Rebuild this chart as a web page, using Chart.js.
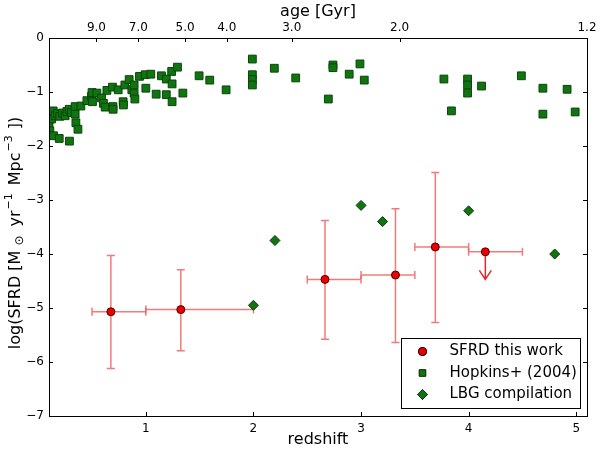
<!DOCTYPE html>
<html>
<head>
<meta charset="utf-8">
<script src="https://cdn.jsdelivr.net/npm/chart.js@4/dist/chart.umd.min.js"></script>
<style>
  html, body { margin: 0; padding: 0; background: #fff; }
  #sfrd { display: block; }
</style>
</head>
<body>
<canvas id="sfrd" width="600" height="449" style="width:600px;height:449px"></canvas>
<script>
// SFRD this work
const sfrdZ     = [0.675, 1.325, 2.665, 3.32, 3.69, 4.155];
const sfrdLog   = [-5.07, -5.03, -4.47, -4.39, -3.87, -3.96];
const sfrdZLo   = [0.5, 1.0, 2.5, 3.0, 3.5, 4.0];
const sfrdZHi   = [1.0, 2.0, 3.0, 3.5, 4.0, 4.5];
const sfrdLogLo = [-6.12, -5.79, -5.58, -5.64, -5.27, null];
const sfrdLogHi = [-4.03, -4.29, -3.38, -3.16, -2.49, null];
const sfrdLimitTo = [null, null, null, null, null, -4.47];  // upper limit arrow

// Hopkins+ (2004)
const hopZ = [0.10, 0.10, 0.108, 0.118, 0.124, 0.139, 0.142, 0.158, 0.179, 0.195,
  0.20, 0.226, 0.25, 0.266, 0.288, 0.29, 0.309, 0.343, 0.343, 0.35,
  0.369, 0.396, 0.452, 0.495, 0.50, 0.504, 0.545, 0.588, 0.606, 0.622,
  0.638, 0.69, 0.694, 0.696, 0.743, 0.789, 0.792, 0.805, 0.845, 0.87,
  0.891, 0.891, 0.898, 0.941, 0.994, 1.0, 1.046, 1.096, 1.145, 1.19,
  1.19, 1.24, 1.244, 1.244, 1.294, 1.344, 1.495, 1.594, 1.746, 1.99,
  1.99, 1.99, 1.99, 2.194, 2.393, 2.696, 2.739, 2.739, 2.89, 2.99,
  3.03, 3.77, 3.84, 3.99, 3.99, 3.99, 4.12, 4.49, 4.69, 4.69,
  4.915, 4.99];
const hopLog = [-1.52, -1.58, -1.72, -1.41, -1.50, -1.35, -1.81, -1.44, -1.40, -1.86,
  -1.45, -1.39, -1.44, -1.36, -1.32, -1.91, -1.38, -1.27, -1.41, -1.57,
  -1.69, -1.26, -1.16, -1.08, -1.01, -1.18, -1.02, -1.11, -1.21, -1.28,
  -0.97, -0.91, -1.27, -1.32, -0.96, -1.18, -1.24, -0.87, -0.77, -0.96,
  -0.87, -1.02, -1.13, -0.71, -0.68, -0.93, -0.67, -1.04, -0.70, -0.76,
  -1.05, -0.62, -0.85, -1.18, -0.54, -1.02, -0.70, -0.78, -0.96, -0.39,
  -0.68, -0.77, -0.87, -0.56, -0.74, -1.13, -0.50, -0.55, -0.67, -0.48,
  -0.78, -0.76, -1.35, -0.76, -0.87, -1.02, -0.89, -0.70, -0.93, -1.41,
  -0.95, -1.37];

// LBG compilation
const lbgZ   = [2.0, 2.2, 3.0, 3.2, 4.0, 4.8];
const lbgLog = [-4.95, -3.75, -3.1, -3.4, -3.2, -4.0];

// axes
const zTicks = [1, 2, 3, 4, 5];
const logTicks = [-7, -6, -5, -4, -3, -2, -1, 0];
const ageTickZ = [0.541, 0.931, 1.365, 1.752, 2.356, 3.358, 5.1];
const ageLabels = ["9.0", "7.0", "5.0", "4.0", "3.0", "2.0", "1.2"];

const FONT = "'DejaVu Sans', sans-serif";
const pts = (xs, ys) => xs.map((x, i) => ({ x: x, y: ys[i] }));

const errorBars = {
  id: "errorBars",
  beforeDatasetsDraw(chart) {
    const ctx = chart.ctx, xs = chart.scales.x, ys = chart.scales.y;
    ctx.save();
    ctx.lineWidth = 1.5;
    ctx.strokeStyle = "rgba(238,100,100,0.85)";
    const cap = 4;
    sfrdZ.forEach((z, i) => {
      const px = xs.getPixelForValue(z), py = ys.getPixelForValue(sfrdLog[i]);
      const x0 = xs.getPixelForValue(sfrdZLo[i]), x1 = xs.getPixelForValue(sfrdZHi[i]);
      ctx.beginPath();
      ctx.moveTo(x0, py); ctx.lineTo(x1, py);
      ctx.moveTo(x0, py - cap); ctx.lineTo(x0, py + cap);
      ctx.moveTo(x1, py - cap); ctx.lineTo(x1, py + cap);
      if (sfrdLogLo[i] !== null) {
        const y0 = ys.getPixelForValue(sfrdLogLo[i]), y1 = ys.getPixelForValue(sfrdLogHi[i]);
        ctx.moveTo(px, y0); ctx.lineTo(px, y1);
        ctx.moveTo(px - cap, y0); ctx.lineTo(px + cap, y0);
        ctx.moveTo(px - cap, y1); ctx.lineTo(px + cap, y1);
      }
      ctx.stroke();
      if (sfrdLimitTo[i] !== null) {
        const yt = ys.getPixelForValue(sfrdLimitTo[i]);
        ctx.save();
        ctx.strokeStyle = "#e02a2a";
        ctx.beginPath();
        ctx.moveTo(px, py); ctx.lineTo(px, yt);
        ctx.moveTo(px - 6, yt - 9); ctx.lineTo(px, yt); ctx.lineTo(px + 6, yt - 9);
        ctx.stroke();
        ctx.restore();
      }
    });
    ctx.restore();
  }
};

const frameAndExtras = {
  id: "frameAndExtras",
  afterDraw(chart) {
    const ctx = chart.ctx, a = chart.chartArea;
    const xs = chart.scales.x, ys = chart.scales.y, xa = chart.scales.xAge;
    ctx.save();
    ctx.strokeStyle = "#000";
    ctx.lineWidth = 1;
    // inward ticks
    ctx.beginPath();
    zTicks.forEach(v => {
      const p = Math.round(xs.getPixelForValue(v)) + 0.5;
      ctx.moveTo(p, a.bottom); ctx.lineTo(p, a.bottom - 4);
    });
    ageTickZ.forEach(v => {
      const p = Math.round(xa.getPixelForValue(v)) + 0.5;
      ctx.moveTo(p, a.top); ctx.lineTo(p, a.top + 4);
    });
    logTicks.forEach(v => {
      const p = Math.round(ys.getPixelForValue(v)) + 0.5;
      ctx.moveTo(a.left, p); ctx.lineTo(a.left + 4, p);
      ctx.moveTo(a.right, p); ctx.lineTo(a.right - 4, p);
    });
    ctx.stroke();
    // frame
    ctx.strokeRect(Math.round(a.left) + 0.5, Math.round(a.top) + 0.5,
      Math.round(a.right - a.left), Math.round(a.bottom - a.top));

    // y axis label with sub/superscripts (gap = space before the piece)
    const parts = [
      { t: "log(SFRD [M", s: 16, dy: 0, gap: 0 },
      { t: "\u2299", s: 12, dy: 4, gap: 5 },
      { t: "yr", s: 16, dy: 0, gap: 9 },
      { t: "\u22121", s: 11, dy: -7, gap: 1 },
      { t: "Mpc", s: 16, dy: 0, gap: 8 },
      { t: "\u22123", s: 11, dy: -7, gap: 1 },
      { t: "])", s: 16, dy: 0, gap: 6 }
    ];
    let total = 0;
    parts.forEach(p => { ctx.font = p.s + "px " + FONT; p.w = ctx.measureText(p.t).width; total += p.w + p.gap; });
    ctx.translate(16, 233);
    ctx.rotate(-Math.PI / 2);
    ctx.fillStyle = "#000";
    ctx.textBaseline = "middle";
    ctx.textAlign = "left";
    let cx = -total / 2;
    parts.forEach(p => {
      cx += p.gap;
      ctx.font = p.s + "px " + FONT;
      ctx.fillText(p.t, cx, p.dy);
      cx += p.w;
    });
    ctx.setTransform(1, 0, 0, 1, 0, 0);
    ctx.restore();

    // legend
    ctx.save();
    const bx = 401.5, by = 338.5, bw = 179, bh = 70;
    ctx.fillStyle = "#fff";
    ctx.fillRect(bx, by, bw, bh);
    ctx.strokeStyle = "#000";
    ctx.strokeRect(bx, by, bw, bh);
    ctx.font = "15px " + FONT;
    ctx.textBaseline = "middle";
    ctx.fillStyle = "#000";
    chart.data.datasets.forEach((ds, i) => {
      const ly = by + 13 + i * 21.5, lx = bx + 21;
      Chart.helpers.drawPoint(ctx, {
        pointStyle: ds.pointStyle, radius: ds.legendRadius, borderWidth: 1
      }, lx, ly);
      ctx.fillStyle = ds.backgroundColor;
      ctx.strokeStyle = ds.borderColor;
      ctx.fill();
      ctx.stroke();
      ctx.fillStyle = "#000";
      ctx.fillText(ds.label, bx + 48, ly);
    });
    ctx.restore();
  }
};

new Chart(document.getElementById("sfrd"), {
  type: "scatter",
  data: {
    datasets: [
      {
        label: "SFRD this work",
        data: pts(sfrdZ, sfrdLog),
        pointStyle: "circle", pointRadius: 4, legendRadius: 4,
        backgroundColor: "#ee0000", borderColor: "#4a0000", borderWidth: 1
      },
      {
        label: "Hopkins+ (2004)",
        data: pts(hopZ, hopLog),
        pointStyle: "rect", pointRadius: 5.5, legendRadius: 4.5,
        backgroundColor: "#107510", borderColor: "#0a450a", borderWidth: 1
      },
      {
        label: "LBG compilation",
        data: pts(lbgZ, lbgLog),
        pointStyle: "rectRot", pointRadius: 5, legendRadius: 5,
        backgroundColor: "#107510", borderColor: "#0a3a0a", borderWidth: 1
      }
    ]
  },
  options: {
    responsive: false,
    animation: false,
    events: [],
    layout: { padding: { left: 0, right: 13, top: 0, bottom: 0 } },
    plugins: { legend: { display: false }, tooltip: { enabled: false } },
    scales: {
      x: {
        type: "linear", position: "bottom", min: 0.1, max: 5.1,
        afterBuildTicks: s => { s.ticks = zTicks.map(v => ({ value: v })); },
        afterFit: s => { s.height = 33; },
        grid: { display: false, drawTicks: false }, border: { display: false },
        ticks: { padding: 6, autoSkip: false, maxRotation: 0, color: "#000", font: { family: FONT, size: 12 } },
        title: { display: true, text: "redshift", color: "#000", padding: 0, font: { family: FONT, size: 16 } }
      },
      xAge: {
        type: "linear", position: "top", min: 0.1, max: 5.1,
        afterBuildTicks: s => { s.ticks = ageTickZ.map(v => ({ value: v })); },
        afterFit: s => { s.height = 38; },
        grid: { display: false, drawTicks: false }, border: { display: false },
        ticks: {
          padding: 3, autoSkip: false, maxRotation: 0, color: "#000", font: { family: FONT, size: 12 },
          callback: (v, i) => ageLabels[i]
        },
        title: { display: true, text: "age [Gyr]", color: "#000", padding: { top: 2, bottom: 0 }, font: { family: FONT, size: 16 } }
      },
      y: {
        type: "linear", min: -7, max: 0,
        afterBuildTicks: s => { s.ticks = logTicks.map(v => ({ value: v })); },
        afterFit: s => { s.width = 49; },
        grid: { display: false, drawTicks: false }, border: { display: false },
        ticks: {
          padding: 5, color: "#000", font: { family: FONT, size: 12 },
          callback: v => String(v).replace("-", "\u2212")
        }
      }
    }
  },
  plugins: [errorBars, frameAndExtras]
});
</script>
</body>
</html>
